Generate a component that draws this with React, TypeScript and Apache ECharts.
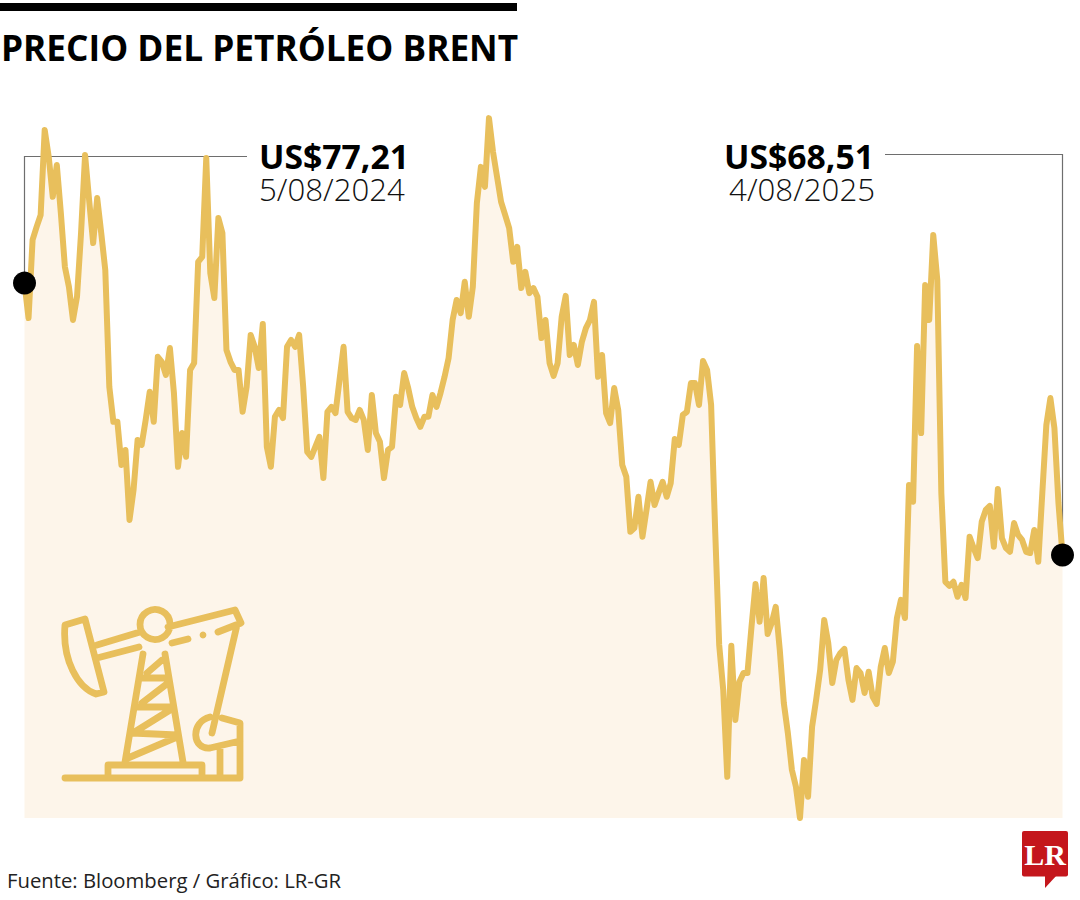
import React, { useEffect, useRef } from "react";
import * as echarts from "echarts";

const brentA = [
  77.21, 76.09, 78.59, 79.01, 79.39, 82.11, 81.25, 79.97, 80.99, 79.45, 77.73, 77.09, 76.03, 76.77, 78.81, 81.31, 79.87, 78.49, 79.93, 78.81, 77.63,
  73.89, 72.77, 72.77, 71.39, 71.87, 69.63, 70.59, 72.19, 72.03, 72.83, 73.73, 72.77, 74.85, 74.69, 74.27, 75.13, 73.69, 71.33, 72.41, 71.65, 74.43,
  74.65, 77.89, 78.05, 81.21, 77.53, 76.73, 79.29, 78.81, 75.07, 74.69, 74.43, 74.43, 73.09, 73.89, 75.55, 75.17, 74.49, 75.9, 71.97, 71.33, 72.93,
  73.15, 72.89, 75.17, 75.39, 75.17, 75.55, 73.89, 71.81, 71.65, 71.97, 72.29, 70.97, 73.09, 73.25, 73.05, 74.11, 75.17, 73.09, 72.89, 72.83, 73.15,
];
const brentB = [
  72.83, 71.87, 73.63, 72.41, 72.13, 70.97, 71.87, 71.97, 73.57, 73.31, 74.33, 73.85, 73.25, 72.89, 72.61, 72.93, 72.93, 73.63, 73.25, 73.69,
  74.21, 74.81, 76.03, 76.67, 76.25, 77.25, 76.13, 77.09, 79.77, 80.93, 80.29, 82.49, 81.41, 80.61, 79.81, 79.39, 78.97, 77.89, 78.37, 77.05,
  77.57, 76.89, 77.05, 76.77, 75.45, 76.03, 74.65, 74.24, 74.65, 76.13, 76.8, 74.91, 75.23, 74.59, 75.33, 75.77, 76.03, 76.61, 74.21, 74.91,
  73.05, 72.73, 73.85, 73.15, 71.39, 71.01, 69.25, 69.37, 70.37, 69.09, 69.95, 70.85, 70.11, 70.49, 70.85, 70.37, 70.81, 72.22, 72.03, 72.99,
  73.09, 74.01, 74.01, 73.31, 74.72, 74.43, 73.31,
];
const brentC = [
  69.31, 65.63, 64.19, 61.41, 65.6, 63.23, 64.45, 64.73, 64.73, 66.21, 67.58, 66.37, 67.77, 65.98, 66.33, 66.85, 65.47, 63.77, 62.81, 61.63,
  61.09, 60.09, 61.95, 60.77, 63.01, 63.87, 64.83, 66.43, 65.69, 64.41, 65.15, 65.37, 65.5, 64.51, 63.87, 64.89, 64.73, 64.09, 64.77, 63.97,
  63.74, 64.93, 65.53, 64.73, 65.09, 66.49, 67.07, 66.49, 70.75, 70.21, 75.2, 72.41, 77.15, 76.03, 78.75, 77.31, 70.49, 67.65, 67.52, 67.65,
  67.17, 67.55, 67.13, 69.09, 68.73, 68.41, 69.57, 69.95, 70.08, 68.77, 70.62, 69.05, 68.73, 68.61, 69.53, 69.15, 68.99, 68.61, 68.57, 69.31,
  68.29, 70.49, 72.67, 73.53, 72.57, 70.17, 68.51,
];
const brent = [...brentA, ...brentB, ...brentC];
const titleText = "PRECIO DEL PETRÓLEO BRENT";
const sourceText = "Fuente: Bloomberg / Gráfico: LR-GR";
const startLabel = { price: "US$77,21", date: "5/08/2024" };
const endLabel = { price: "US$68,51", date: "4/08/2025" };

const GOLD = "#E8BF5C";
const FILL = "#FDF5EA";
const LEADER = "#6E6E6E";
const FONT = "'Open Sans', sans-serif";

const PUMP =
  "M65 778H239 M108 778V765H202V778 " +
  "M143 654L125 762 M165 654L183 762 " +
  "M143 678H165 M138 707H172 M132 733L177 735 " +
  "M162 660L147 673 M168 683L142 703 M170 710L133 733 M177 737L128 758 " +
  "M170 624A15 15 0 1 0 170 625 " +
  "M168 627L235 610L241 623L218 632 M188 639L172 643 " +
  "M97 645L140 632 M97 658L139 647 " +
  "M65 625L85 619L104 692L96 694C78 688 62 660 65 625Z " +
  "M237 625L212 733 " +
  "M222 718L240 723V778 M210 717C190 722 192 750 210 748L240 741 M220 746V778";

echarts.graphic.registerShape("pumpjack", echarts.graphic.extendPath(PUMP, {}));

export default function App() {
  const ref = useRef<HTMLDivElement>(null);
  useEffect(() => {
    const chart = echarts.init(ref.current!, null, { renderer: "svg" });
    const last = brent.length - 1;
    chart.setOption({
      animation: false,
      backgroundColor: "#ffffff",
      grid: { left: 24.5, top: 100, width: 1038, height: 718 },
      xAxis: { type: "value", min: 0, max: last, show: false },
      yAxis: { type: "value", min: 60.09, max: 83.07, show: false },
      series: [
        {
          type: "line",
          data: brent.map((v, i) => [i, v]),
          showSymbol: false,
          smooth: false,
          lineStyle: { color: GOLD, width: 6, join: "round", cap: "round" },
          areaStyle: { color: FILL, opacity: 1 },
          z: 2,
        },
        {
          type: "scatter",
          data: [
            [0, brent[0]],
            [last, brent[last]],
          ],
          symbolSize: 23,
          itemStyle: { color: "#000000", opacity: 1 },
          z: 5,
        },
      ],
      graphic: [
        { type: "rect", z: 10, shape: { x: 0, y: 3, width: 517, height: 8 }, style: { fill: "#000000" } },
        { type: "text", z: 10, x: 1, y: 28.5, scaleX: 0.965, style: { text: titleText, fontFamily: FONT, fontWeight: 700, fontSize: 36.5, fill: "#000000" } },
        { type: "polyline", z: 1, shape: { points: [[24.5, 283], [24.5, 156.5], [247, 156.5]] }, style: { stroke: LEADER, lineWidth: 1.2, fill: "none" } },
        { type: "polyline", z: 1, shape: { points: [[885, 154.5], [1062.5, 154.5], [1062.5, 555]] }, style: { stroke: LEADER, lineWidth: 1.2, fill: "none" } },
        { type: "text", z: 10, x: 259, y: 140, style: { text: startLabel.price, fontFamily: FONT, fontWeight: 700, fontSize: 33.7, lineHeight: 32, fill: "#000000" } },
        { type: "text", z: 10, x: 259, y: 172, scaleX: 0.975, style: { text: startLabel.date, fontFamily: FONT, fontWeight: 300, fontSize: 32, lineHeight: 32, fill: "#111111" } },
        { type: "text", z: 10, x: 874, y: 140, style: { text: endLabel.price, align: "right", fontFamily: FONT, fontWeight: 700, fontSize: 33.7, lineHeight: 32, fill: "#000000" } },
        { type: "text", z: 10, x: 875, y: 172, scaleX: 0.975, style: { text: endLabel.date, align: "right", fontFamily: FONT, fontWeight: 300, fontSize: 32, lineHeight: 32, fill: "#111111" } },
        { type: "text", z: 10, x: 7, y: 870, style: { text: sourceText, fontFamily: FONT, fontSize: 20.3, fill: "#222222" } },
        { type: "pumpjack", z: 10, x: 0, y: 0, style: { fill: "none", stroke: GOLD, lineWidth: 6.8, lineCap: "round", lineJoin: "round" } },
        { type: "circle", z: 10, shape: { cx: 203, cy: 635, r: 3.4 }, style: { fill: GOLD } },
        { type: "rect", z: 10, shape: { x: 1022, y: 831, width: 46, height: 45.5, r: 2 }, style: { fill: "#C4161C" } },
        { type: "polygon", z: 10, shape: { points: [[1045, 875], [1057, 875], [1045, 888]] }, style: { fill: "#C4161C" } },
        { type: "text", z: 11, x: 1045, y: 854, style: { text: "LR", align: "center", verticalAlign: "middle", fontFamily: "'Liberation Serif', serif", fontWeight: 700, fontSize: 30, fill: "#ffffff" } },
      ],
    });
    return () => chart.dispose();
  }, []);
  return <div ref={ref} style={{ position: "absolute", left: 0, top: 0, width: 1080, height: 900 }} />;
}
